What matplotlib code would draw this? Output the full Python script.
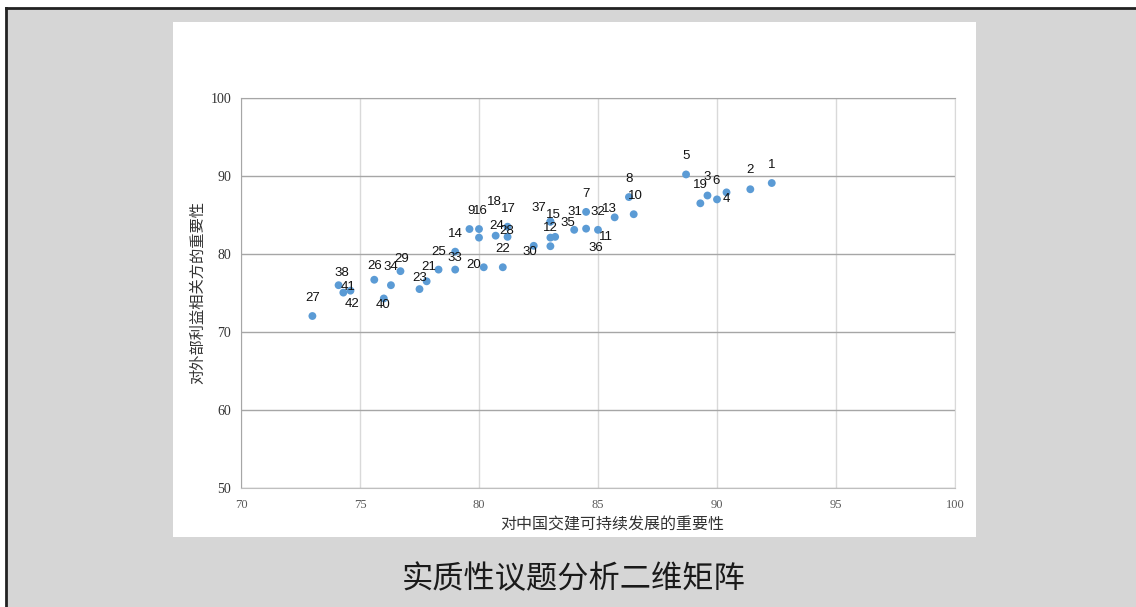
import matplotlib
matplotlib.use("Agg")
import matplotlib.pyplot as plt
from matplotlib.lines import Line2D
from matplotlib.patches import Rectangle

# 议题编号及其坐标（对中国交建可持续发展的重要性, 对外部利益相关方的重要性）
labels = ["1", "2", "3", "4", "5", "6", "7", "8", "9", "10",
          "11", "12", "13", "14", "15", "16", "17", "18", "19", "20",
          "21", "22", "23", "24", "25", "26", "27", "28", "29", "30",
          "31", "32", "33", "34", "35", "36", "37", "38", "40", "41", "42"]
x_vals = [92.3, 91.4, 89.6, 90.0, 88.7, 90.4, 84.5, 86.3, 79.6, 86.5,
          83.2, 83.0, 85.7, 79.0, 83.0, 80.0, 81.2, 80.0, 89.3, 80.2,
          77.8, 81.0, 77.5, 80.7, 78.3, 75.6, 73.0, 81.2, 76.7, 82.3,
          84.5, 85.0, 79.0, 76.3, 84.0, 83.0, 83.0, 74.1, 76.0, 74.3, 74.6]
y_vals = [89.1, 88.3, 87.5, 87.0, 90.2, 87.9, 85.4, 87.3, 83.2, 85.1,
          82.2, 82.1, 84.7, 80.3, 84.15, 83.2, 83.5, 82.1, 86.5, 78.3,
          76.5, 78.3, 75.5, 82.35, 78.0, 76.7, 72.05, 82.2, 77.8, 81.05,
          83.25, 83.1, 78.0, 76.0, 83.1, 81.0, 84.15, 76.0, 74.3, 75.05, 75.3]

# 数据标签相对点的偏移（像素）
label_offsets = [(0, 18), (0, 19), (0, 19), (9, 0), (0, 18), (-10, 11), (0, 18), (0, 18), (2, 18), (2, 18),
                 (51, 0), (0, 10), (-5, 8), (0, 18), (3, 7), (1, 18), (1, 18), (15, 36), (0, 18), (-10, 2),
                 (2, 14), (0, 18), (0, 11), (1, 10), (0, 18), (0, 14), (0, 18), (-1, 6), (1, 12), (-4, -6),
                 (-11, 17), (0, 18), (0, 12), (0, 18), (-6, 7), (45, -2), (-12, 14), (3, 12), (-1, -7), (5, 6), (2, -13)]

x_ticks = [70, 75, 80, 85, 90, 95, 100]
y_ticks = [50, 60, 70, 80, 90, 100]

CJK = ["Noto Sans CJK SC", "DejaVu Sans"]

fig = plt.figure(figsize=(11.36, 6.07), dpi=100)
fig.patch.set_facecolor("white")

# 灰色底板与边框
fig.patches.append(Rectangle((7 / 1136, 0), 1, 1 - 9 / 607, transform=fig.transFigure,
                             facecolor="#d6d6d6", edgecolor="none", zorder=0))
fig.lines.append(Line2D([6 / 1136, 1], [1 - 8 / 607, 1 - 8 / 607], transform=fig.transFigure,
                        color="#222222", lw=2))
fig.lines.append(Line2D([6 / 1136, 6 / 1136], [0, 1 - 8 / 607], transform=fig.transFigure,
                        color="#222222", lw=2))
# 白色图表区
fig.patches.append(Rectangle((173 / 1136, 1 - 537 / 607), (976 - 173) / 1136, (537 - 22) / 607,
                             transform=fig.transFigure, facecolor="white", edgecolor="none", zorder=1))

ax = fig.add_axes([241 / 1136, 1 - 488 / 607, (955 - 241) / 1136, (488 - 98) / 607])
ax.set_facecolor("white")
ax.set_zorder(2)

ax.scatter(x_vals, y_vals, s=32, color="#5b9bd5", edgecolors="none", zorder=3)
for lab, xv, yv, off in zip(labels, x_vals, y_vals, label_offsets):
    ax.annotate(lab, (xv, yv), xytext=off, textcoords="offset pixels",
                ha="center", va="center", fontsize=9.5, family="Liberation Sans",
                color="#111111", zorder=4)

ax.set_xlim(70, 100)
ax.set_ylim(50, 100)
ax.set_xticks(x_ticks)
ax.set_yticks(y_ticks)
ax.tick_params(axis="both", length=0)
ax.tick_params(axis="x", pad=8, labelsize=9, labelcolor="#595959")
ax.tick_params(axis="y", pad=7, labelsize=10, labelcolor="#333333")
for t in ax.get_xticklabels() + ax.get_yticklabels():
    t.set_family("Liberation Serif")

for v in y_ticks:
    ax.axhline(v, color="#a6a6a6", lw=1, zorder=1)
for v in x_ticks:
    ax.axvline(v, color="#d9d9d9", lw=1, zorder=0.5)

ax.spines["top"].set_color("#a6a6a6")
ax.spines["left"].set_color("#a6a6a6")
ax.spines["right"].set_color("#d9d9d9")
ax.spines["bottom"].set_color("#bfbfbf")

ax.set_xlabel("对中国交建可持续发展的重要性", family=CJK, fontsize=11.5, color="#333333")
ax.xaxis.set_label_coords((612 - 241) / 714, (488 - 525) / 390)
ax.xaxis.label.set_va("center")
ax.set_ylabel("对外部利益相关方的重要性", family=CJK, fontsize=11, color="#333333")
ax.yaxis.set_label_coords((198 - 241) / 714, 0.5)
ax.yaxis.label.set_va("center")

fig.text(573.5 / 1136, 1 - 579 / 607, "实质性议题分析二维矩阵", family=CJK,
         fontsize=22.5, color="#1a1a1a", ha="center", va="center")

fig.savefig("out.png", dpi=100)
